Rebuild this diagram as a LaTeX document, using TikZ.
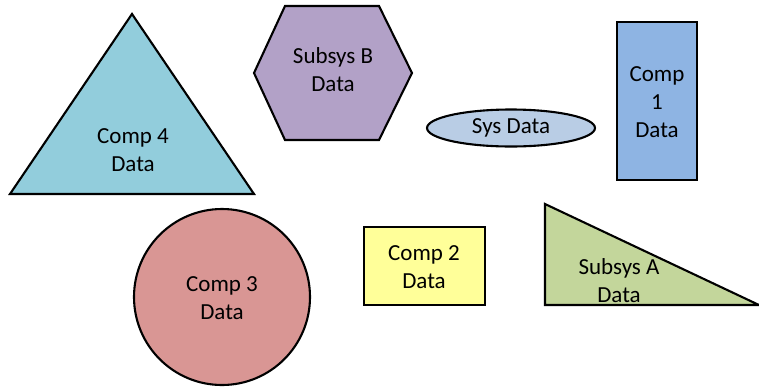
\documentclass[tikz,border=0pt]{standalone}
\usepackage{fontspec}
\setmainfont{Carlito}
\begin{document}
\begin{tikzpicture}[x=1pt,y=-1pt,
  shapeline/.style={draw=black,line width=2.1pt,line join=miter},
  label/.style={align=center,inner sep=0pt,font=\fontsize{23}{28}\selectfont}]
\useasboundingbox (0,0) rectangle (759,389);
% shapes
\draw[shapeline,fill={rgb,255:red,146;green,205;blue,220}] (10,194) -- (132,14) -- (254,194) -- cycle;
\draw[shapeline,fill={rgb,255:red,178;green,161;blue,199}] (254,73) -- (285,6) -- (379,6) -- (412,73) -- (379,140) -- (285,140) -- cycle;
\draw[shapeline,fill={rgb,255:red,185;green,205;blue,229}] (511,128) ellipse [x radius=84,y radius=18.5];
\draw[shapeline,fill={rgb,255:red,142;green,180;blue,227}] (617,22) rectangle (697,180);
\draw[shapeline,fill={rgb,255:red,217;green,150;blue,148}] (222,297) circle [radius=88];
\draw[shapeline,fill={rgb,255:red,255;green,255;blue,153}] (364,227) rectangle (485,305);
\draw[shapeline,fill={rgb,255:red,195;green,214;blue,155}] (545,204) -- (545,305) -- (759,305) -- cycle;
% labels
\node[label] (c4) at (133,150) {Comp 4\\Data};
\node[label] (sb) at (333,70) {Subsys B\\Data};
\node[label] (sd) at (511,128) {Sys Data};
\node[label] (c1) at (657,102) {Comp\\1\\Data};
\node[label] (c3) at (222,298) {Comp 3\\Data};
\node[label] (c2) at (424,267) {Comp 2\\Data};
\node[label] (sa) at (619,281) {Subsys A\\Data};
\end{tikzpicture}
\end{document}
